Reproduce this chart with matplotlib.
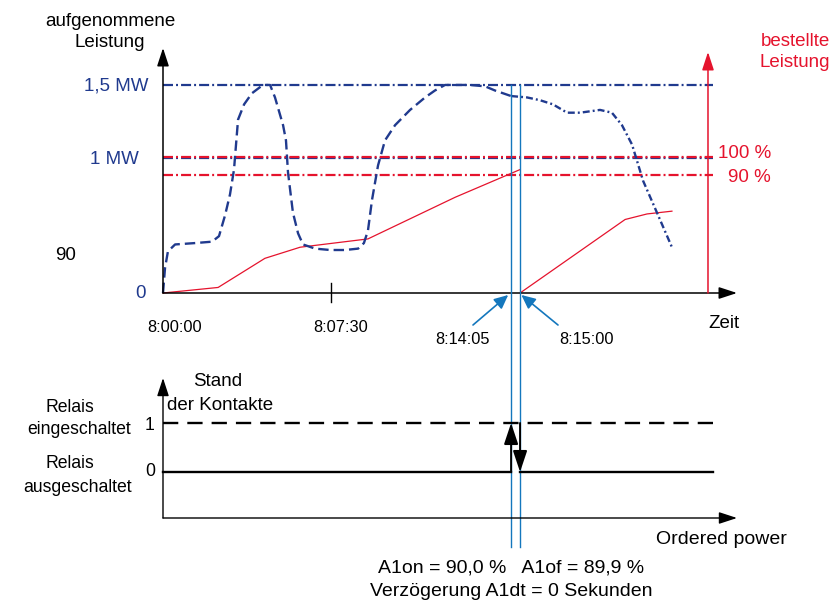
import matplotlib.pyplot as plt
import numpy as np

plt.rcParams['font.family'] = ['Liberation Sans', 'DejaVu Sans']
plt.rcParams['lines.scale_dashes'] = False

NAVY = '#203a8e'
RED = '#e5132d'
LBLUE = '#1477bd'

# --- data (schematic: time in minutes after 8:00:00, power in MW) ---
# absorbed power, dashed part up to the switch-on moment
load_t = [0, 0.09, 0.22, 0.54, 1.43, 2.19, 2.50, 2.77, 2.99, 3.17, 3.35, 3.62, 3.97,
          4.46, 4.78, 5.00, 5.36, 5.49, 5.58, 5.80, 6.03, 6.25, 6.79, 7.46, 8.13,
          8.71, 8.97, 9.15, 9.33, 9.60, 9.91, 10.36, 11.03, 11.70, 12.14, 12.59,
          13.71, 14.38, 14.82, 15.54]
load_p = [0, 0.18, 0.30, 0.35, 0.36, 0.37, 0.41, 0.56, 0.71, 0.89, 1.25, 1.36, 1.44,
          1.50, 1.50, 1.41, 1.21, 1.10, 0.87, 0.58, 0.43, 0.35, 0.32, 0.31, 0.31,
          0.32, 0.36, 0.45, 0.67, 0.92, 1.10, 1.21, 1.32, 1.41, 1.46, 1.50,
          1.50, 1.49, 1.46, 1.42]
# absorbed power after the switch-on moment (dash-dot)
load2_t = [15.54, 16.25, 16.83, 17.41, 18.04, 18.62, 19.51, 20.04, 20.49, 20.94, 21.43, 22.05, 22.72]
load2_p = [1.42, 1.41, 1.39, 1.36, 1.30, 1.30, 1.32, 1.30, 1.21, 1.07, 0.81, 0.58, 0.33]

# ordered power (red), before and after reset
order_t = [0, 2.46, 4.55, 6.12, 9.15, 13.04, 15.94]
order_p = [0, 0.04, 0.25, 0.33, 0.39, 0.69, 0.89]
order2_t = [15.94, 20.63, 21.61, 22.72]
order2_p = [0, 0.53, 0.57, 0.59]

blue_levels = [1.5, 0.97]
blue_labels = ['1,5 MW', '1 MW']
red_levels = [0.98, 0.85]
red_labels = ['100 %', '90 %']

t_on, t_off = 15.54, 15.94       # 8:14:05 and 8:15:00
t_tick = 7.5                      # 8:07:30
t_end = 24.55                     # end of reference lines
t_order_axis = 24.33              # "bestellte Leistung" axis

relay_t = [0, t_on, t_on, t_off, t_off, t_end]
relay_s = [0, 0, 1, 1, 0, 0]

W, H = 834, 605
PXT, PXP = 22.4, 138.7            # px per minute / per MW
PXS = 49.0                        # px per relay state


def box(x0, y0, x1, y1):
    return [x0 / W, 1 - y1 / H, (x1 - x0) / W, (y1 - y0) / H]


def fpos(x, y):
    return x / W, 1 - y / H


fig = plt.figure(figsize=(W / 100, H / 100), dpi=100)

# ---------------- top panel ----------------
ax1 = fig.add_axes(box(163, 30, 740, 293))
ax1.set_xlim(0, 577 / PXT)
ax1.set_ylim(0, 263 / PXP)
ax1.axis('off')

for lv in blue_levels:
    ax1.plot([0, t_end], [lv, lv], color=NAVY, lw=1.6, ls=(0, (7.2, 2.2, 1.4, 2.2)), clip_on=False)
for lv in red_levels:
    ax1.plot([0, t_end], [lv, lv], color=RED, lw=1.6, ls=(0, (7.2, 2.2, 1.4, 2.2)), clip_on=False)

ax1.plot(order_t, order_p, color=RED, lw=0.9, clip_on=False)
ax1.plot(order2_t, order2_p, color=RED, lw=0.9, clip_on=False)
ax1.plot(load_t, load_p, color=NAVY, lw=1.7, ls=(0, (7.5, 3.6)), clip_on=False)
ax1.plot(load2_t, load2_p, color=NAVY, lw=1.7, ls=(0, (5, 2.2, 1.4, 2.2)), clip_on=False)

# switching lines through both panels
y_bottom = -(547 - 293) / PXP
for tv in (t_on, t_off):
    ax1.plot([tv, tv], [blue_levels[0], y_bottom], color=LBLUE, lw=1.0, clip_on=False, zorder=5)

# axes arrows
head = dict(arrowstyle='-|>,head_length=0.55,head_width=0.18', mutation_scale=20,
            shrinkA=0, shrinkB=0)
ax1.annotate('', xy=(0, (293 - 48) / PXP), xytext=(0, 0),
             arrowprops=dict(color='black', lw=1.1, **head), annotation_clip=False)
ax1.annotate('', xy=((737 - 163) / PXT, 0), xytext=(0, 0),
             arrowprops=dict(color='black', lw=1.1, **head), annotation_clip=False)
ax1.annotate('', xy=(t_order_axis, (293 - 52) / PXP), xytext=(t_order_axis, 0),
             arrowprops=dict(color=RED, lw=1.1, **head), annotation_clip=False)
ax1.plot([t_tick, t_tick], [-9 / PXP, 10 / PXP], color='black', lw=1.0, clip_on=False)

# time markers
small = dict(arrowstyle='-|>,head_length=0.6,head_width=0.28', mutation_scale=14,
             shrinkA=0, shrinkB=0)
ax1.annotate('', xy=(t_on - 0.13, -2 / PXP), xytext=((473 - 163) / PXT, -32 / PXP),
             arrowprops=dict(color=LBLUE, lw=1.2, **small), annotation_clip=False)
ax1.annotate('', xy=(t_off + 0.06, -2 / PXP), xytext=((558 - 163) / PXT, -32 / PXP),
             arrowprops=dict(color=LBLUE, lw=1.2, **small), annotation_clip=False)

# ---------------- bottom panel ----------------
ax2 = fig.add_axes(box(163, 370, 740, 518))
ax2.set_xlim(0, 577 / PXT)
ax2.set_ylim(-(518 - 472) / PXS, (472 - 370) / PXS)
ax2.axis('off')

ax2.plot([0, t_end], [1, 1], color='black', lw=1.7, ls=(0, (11, 6.5)), clip_on=False)
ax2.plot(relay_t[:2], relay_s[:2], color='black', lw=1.7, clip_on=False)
ax2.plot(relay_t[4:], relay_s[4:], color='black', lw=1.7, clip_on=False)
ybase = -(518 - 472) / PXS
ax2.annotate('', xy=(0, (472 - 378) / PXS), xytext=(0, ybase),
             arrowprops=dict(color='black', lw=1.0, **head), annotation_clip=False)
ax2.annotate('', xy=((737 - 163) / PXT, ybase), xytext=(0, ybase),
             arrowprops=dict(color='black', lw=1.0, **head), annotation_clip=False)
relay_head = dict(arrowstyle='-|>,head_length=0.72,head_width=0.24', mutation_scale=18,
                  shrinkA=0, shrinkB=0)
ax2.annotate('', xy=(relay_t[2], relay_s[2]), xytext=(relay_t[1], relay_s[1]),
             arrowprops=dict(color='black', lw=1.4, **relay_head), annotation_clip=False)
ax2.annotate('', xy=(relay_t[4], relay_s[4]), xytext=(relay_t[3], relay_s[3]),
             arrowprops=dict(color='black', lw=1.4, **relay_head), annotation_clip=False)

# ---------------- texts ----------------
fig.text(*fpos(110, 32), 'aufgenommene\nLeistung', fontsize=13.5, ha='center', va='center',
         linespacing=1.3)
fig.text(*fpos(148, 86), blue_labels[0], fontsize=13.5, color=NAVY, ha='right', va='center')
fig.text(*fpos(139, 160), blue_labels[1], fontsize=13.5, color=NAVY, ha='right', va='center')
fig.text(*fpos(146, 293), '0', fontsize=13.5, color=NAVY, ha='right', va='center')
fig.text(*fpos(66, 256), '90', fontsize=13.5, ha='center', va='center')
fig.text(*fpos(795, 52), 'bestellte\nLeistung', fontsize=13.5, color=RED, ha='center', va='center',
         linespacing=1.3)
fig.text(*fpos(771, 154), red_labels[0], fontsize=13.5, color=RED, ha='right', va='center')
fig.text(*fpos(771, 177), red_labels[1], fontsize=13.5, color=RED, ha='right', va='center')
fig.text(*fpos(175, 327), '8:00:00', fontsize=11.8, ha='center', va='center')
fig.text(*fpos(341, 327), '8:07:30', fontsize=11.8, ha='center', va='center')
fig.text(*fpos(463, 340), '8:14:05', fontsize=11.8, ha='center', va='center')
fig.text(*fpos(586, 340), '8:15:00', fontsize=11.8, ha='center', va='center')
fig.text(*fpos(724, 323), 'Zeit', fontsize=13.5, ha='center', va='center')

fig.text(*fpos(218, 381), 'Stand', fontsize=13.5, ha='center', va='center')
fig.text(*fpos(167, 405), 'der Kontakte', fontsize=13.5, ha='left', va='center')
fig.text(*fpos(70, 407), 'Relais', fontsize=12.7, ha='center', va='center')
fig.text(*fpos(79, 429), 'eingeschaltet', fontsize=12.7, ha='center', va='center')
fig.text(*fpos(70, 463), 'Relais', fontsize=12.7, ha='center', va='center')
fig.text(*fpos(78, 488), 'ausgeschaltet', fontsize=12.7, ha='center', va='center')
fig.text(*fpos(150, 425), '1', fontsize=12.7, ha='center', va='center')
fig.text(*fpos(150, 472), '0', fontsize=12.7, ha='center', va='center')
fig.text(*fpos(721, 540), 'Ordered power', fontsize=14, ha='center', va='center')
fig.text(*fpos(511, 568), 'A1on = 90,0 %   A1of = 89,9 %', fontsize=14, ha='center', va='center')
fig.text(*fpos(511, 591), 'Verzögerung A1dt = 0 Sekunden', fontsize=14, ha='center', va='center')

fig.savefig('out.png', dpi=100)
